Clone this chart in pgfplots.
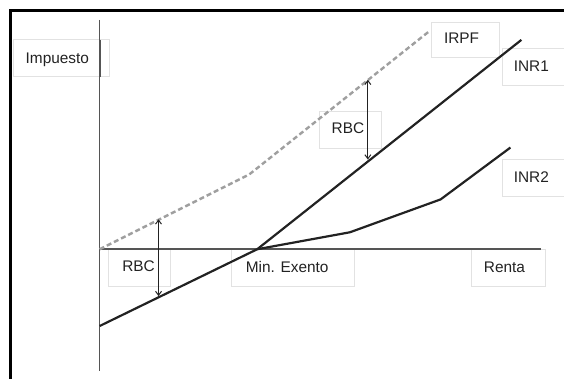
\documentclass[border=0pt]{standalone}
\usepackage{pgfplots}
\pgfplotsset{compat=1.18}
\usetikzlibrary{arrows.meta}
\usepackage{fontspec}
\setmainfont{Liberation Sans}
\definecolor{txt}{HTML}{222222}
\definecolor{ax}{HTML}{555555}
\definecolor{boxc}{HTML}{E2E2E2}
\begin{document}
\begin{tikzpicture}
\begin{axis}[
  width=566bp, height=380bp, scale only axis,
  xmin=0, xmax=566, ymin=0, ymax=380,
  axis lines=none, clip=false,
]
\path (rel axis cs:0,0) rectangle (rel axis cs:1,1);
% label boxes
\draw[boxc, line width=0.8bp] (axis cs:13,340) rectangle (axis cs:110,303);
\draw[boxc, line width=0.8bp] (axis cs:433,358) rectangle (axis cs:501,322);
\draw[boxc, line width=0.8bp] (axis cs:504,331) -- (axis cs:566,331);
\draw[boxc, line width=0.8bp] (axis cs:504,331) -- (axis cs:504,294) -- (axis cs:566,294);
\draw[boxc, line width=0.8bp] (axis cs:504,220) -- (axis cs:566,220);
\draw[boxc, line width=0.8bp] (axis cs:504,220) -- (axis cs:504,183) -- (axis cs:566,183);
\draw[boxc, line width=0.8bp] (axis cs:320,268) rectangle (axis cs:383,231);
\draw[boxc, line width=0.8bp] (axis cs:109,130) rectangle (axis cs:171,93);
\draw[boxc, line width=0.8bp] (axis cs:232,130) rectangle (axis cs:355,93);
\draw[boxc, line width=0.8bp] (axis cs:473,130) rectangle (axis cs:547,93);
% frame
\draw[black, line width=3.5bp] (axis cs:10.5,0) -- (axis cs:10.5,369.5) -- (axis cs:566,369.5);
% axes of the diagram
\addplot[ax, line width=1.4bp, forget plot] coordinates {(100,360) (100,8)};
\addplot[ax, line width=2.2bp, forget plot] coordinates {(100,303) (100,340)};
\addplot[ax, line width=2bp, forget plot] coordinates {(100,130) (543,130)};
% IRPF
\addplot[color=gray!75, line width=2.4bp, dash pattern=on 5bp off 3bp] coordinates {(100,130) (250,205) (431,349)};
% INR1
\addplot[color=txt, line width=2.2bp] coordinates {(100,53) (258,130) (523,340)};
% INR2
\addplot[color=txt, line width=2.2bp] coordinates {(258,130) (351,147) (442,180) (512,232)};
% RBC arrows
\addplot[color=txt, line width=1bp, {Straight Barb[length=4bp,width=6bp]}-{Straight Barb[length=4bp,width=6bp]}] coordinates {(369,300) (369,220)};
\addplot[color=txt, line width=1bp, {Straight Barb[length=4bp,width=6bp]}-{Straight Barb[length=4bp,width=6bp]}] coordinates {(159,160) (159,83)};
% texts
\begin{scope}[every node/.style={font=\fontsize{15.5}{17}\selectfont, text=txt, inner sep=0pt, anchor=base}]
\node at (axis cs:57.5,316) {Impuesto};
\node at (axis cs:463,336.5) {IRPF};
\node at (axis cs:533,308) {INR1};
\node at (axis cs:533,196.5) {INR2};
\node at (axis cs:349,246.5) {RBC};
\node at (axis cs:139,107.5) {RBC};
\node at (axis cs:288,106.3) {Min. Exento};
\node at (axis cs:506,106.5) {Renta};
\end{scope}
\end{axis}
\end{tikzpicture}
\end{document}
